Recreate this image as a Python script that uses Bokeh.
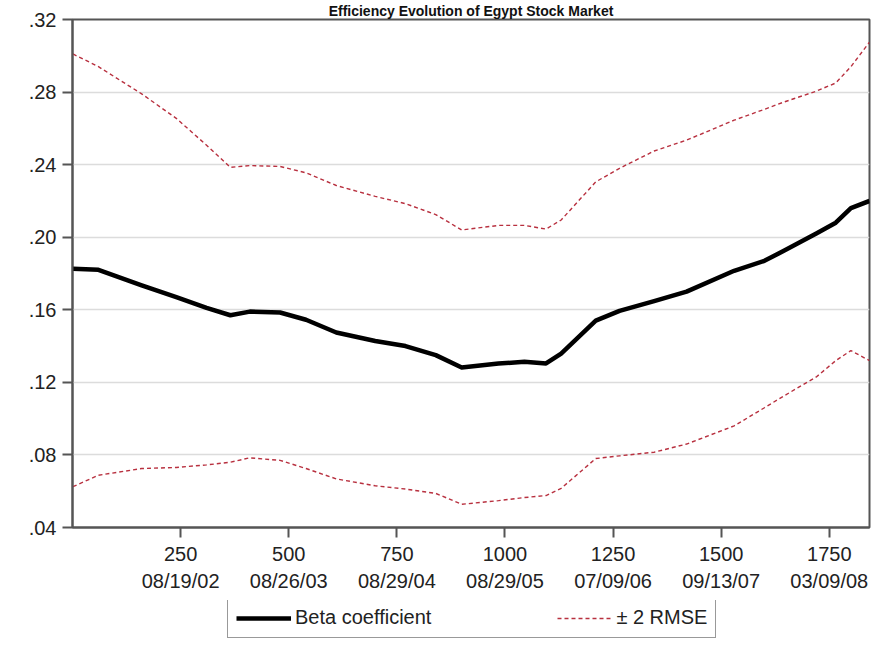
from bokeh.plotting import figure
from bokeh.layouts import column
from bokeh.models import (Range1d, FixedTicker, LinearAxis, CustomJSTickFormatter,
                          Legend, LegendItem, Title)
from bokeh.embed import file_html
from bokeh.resources import INLINE

# ---- data ----
obs = [1, 60, 160, 240, 310, 365, 410, 480, 540, 610, 700, 770, 840, 900, 985,
       1045, 1095, 1130, 1210, 1265, 1345, 1420, 1530, 1600, 1645, 1720, 1765,
       1800, 1843]
beta = [0.1826, 0.1820, 0.1735, 0.1670, 0.1610, 0.1570, 0.1590, 0.1585, 0.1545,
        0.1475, 0.1428, 0.1400, 0.1350, 0.1282, 0.1304, 0.1313, 0.1304, 0.1359,
        0.1540, 0.1594, 0.1648, 0.1700, 0.1815, 0.1870, 0.1925, 0.2020, 0.2080,
        0.2160, 0.2200]
upper = [0.3010, 0.2940, 0.2790, 0.2655, 0.2507, 0.2385, 0.2395, 0.2390, 0.2355,
         0.2285, 0.2225, 0.2185, 0.2125, 0.2040, 0.2065, 0.2065, 0.2045, 0.2095,
         0.2305, 0.2380, 0.2475, 0.2535, 0.2645, 0.2705, 0.2745, 0.2805, 0.2850,
         0.2940, 0.3075]
lower = [0.0625, 0.0688, 0.0725, 0.0731, 0.0745, 0.0760, 0.0784, 0.0770, 0.0725,
         0.0668, 0.0630, 0.0612, 0.0588, 0.0528, 0.0548, 0.0565, 0.0576, 0.0616,
         0.0780, 0.0795, 0.0815, 0.0860, 0.0960, 0.1060, 0.1125, 0.1230, 0.1320,
         0.1375, 0.1320]

x_ticks = [250, 500, 750, 1000, 1250, 1500, 1750]
x_dates = ["08/19/02", "08/26/03", "08/29/04", "08/29/05", "07/09/06",
           "09/13/07", "03/09/08"]
y_ticks = [0.04, 0.08, 0.12, 0.16, 0.20, 0.24, 0.28, 0.32]

title_text = "Efficiency Evolution of Egypt Stock Market"
legend_labels = ["Beta coefficient", "\u00b1 2 RMSE"]

FONT = "Liberation Sans"
FS = "20px"
TXT = "#222222"
BAND = "#b8303f"

p = figure(width=883, height=600, x_range=Range1d(0, 1843),
           y_range=Range1d(0.04, 0.32), output_backend="svg",
           toolbar_location=None,
           min_border_left=72, min_border_right=14, min_border_top=0,
           min_border_bottom=73, background_fill_color="white",
           border_fill_color="white")

p.title = Title(text=title_text, align="center", text_font=FONT,
                text_font_size="14px", text_font_style="bold",
                text_color="#111111", standoff=1, offset=0)

p.outline_line_color = "#555555"
p.outline_line_width = 2

# grid
p.xgrid.grid_line_color = None
p.ygrid.ticker = FixedTicker(ticks=y_ticks)
p.ygrid.grid_line_color = "#dcdcdc"
p.ygrid.grid_line_width = 1.5

# y axis
ya = p.yaxis[0]
ya.ticker = FixedTicker(ticks=y_ticks)
ya.formatter = CustomJSTickFormatter(code="return tick.toFixed(2).replace(/^0/, '');")
ya.major_tick_out = 10
ya.major_tick_in = 0
ya.minor_tick_line_color = None
ya.axis_line_color = "#555555"
ya.axis_line_width = 2
ya.major_tick_line_color = "#555555"
ya.major_tick_line_width = 2
ya.major_label_text_font = FONT
ya.major_label_text_font_size = FS
ya.major_label_text_color = TXT
ya.major_label_standoff = 6

# x axis: observation numbers
xa = p.xaxis[0]
xa.ticker = FixedTicker(ticks=x_ticks)
xa.major_tick_out = 10
xa.major_tick_in = 0
xa.minor_tick_line_color = None
xa.axis_line_color = "#555555"
xa.axis_line_width = 2
xa.major_tick_line_color = "#555555"
xa.major_tick_line_width = 2
xa.major_label_text_font = FONT
xa.major_label_text_font_size = FS
xa.major_label_text_color = TXT
xa.major_label_standoff = 9

# second x axis: dates
xa2 = LinearAxis(ticker=FixedTicker(ticks=x_ticks),
                 major_label_overrides={t: d for t, d in zip(x_ticks, x_dates)})
xa2.axis_line_color = None
xa2.major_tick_line_color = None
xa2.minor_tick_line_color = None
xa2.major_tick_out = 0
xa2.major_tick_in = 0
xa2.major_label_standoff = 6
xa2.major_label_text_font = FONT
xa2.major_label_text_font_size = FS
xa2.major_label_text_color = TXT
p.add_layout(xa2, "below")

# lines
p.line(obs, upper, line_color=BAND, line_width=1.4, line_dash="4 3")
p.line(obs, lower, line_color=BAND, line_width=1.4, line_dash="4 3")
p.line(obs, beta, line_color="black", line_width=4.5, line_join="round")

# legend strip below the chart (sample renderers sit outside the visible range)
lg = figure(width=883, height=51, x_range=Range1d(0, 1), y_range=Range1d(0, 1),
            output_backend="svg", toolbar_location=None,
            x_axis_location=None, y_axis_location=None,
            min_border_left=0, min_border_right=0, min_border_top=0,
            min_border_bottom=0, background_fill_color="white",
            border_fill_color="white")
lg.outline_line_color = None
lg.grid.visible = False
lb = lg.line(x=[-2, -1], y=[-2, -2], line_color="black", line_width=4.5)
lr = lg.line(x=[-2, -1], y=[-3, -3], line_color=BAND, line_width=1.4,
             line_dash="4 3")

legend = Legend(items=[LegendItem(label=legend_labels[0], renderers=[lb]),
                       LegendItem(label=legend_labels[1], renderers=[lr])],
                orientation="horizontal", location=(155, 13))
legend.label_text_font = FONT
legend.label_text_font_size = FS
legend.label_text_color = TXT
legend.glyph_width = 55
legend.glyph_height = 20
legend.label_standoff = 4
legend.spacing = 126
legend.padding = 8
legend.margin = 0
legend.border_line_color = "#333333"
legend.border_line_width = 1.5
legend.background_fill_alpha = 1
lg.add_layout(legend, "center")

layout = column(p, lg, spacing=0)
open("out.html", "w").write(file_html(layout, INLINE))
